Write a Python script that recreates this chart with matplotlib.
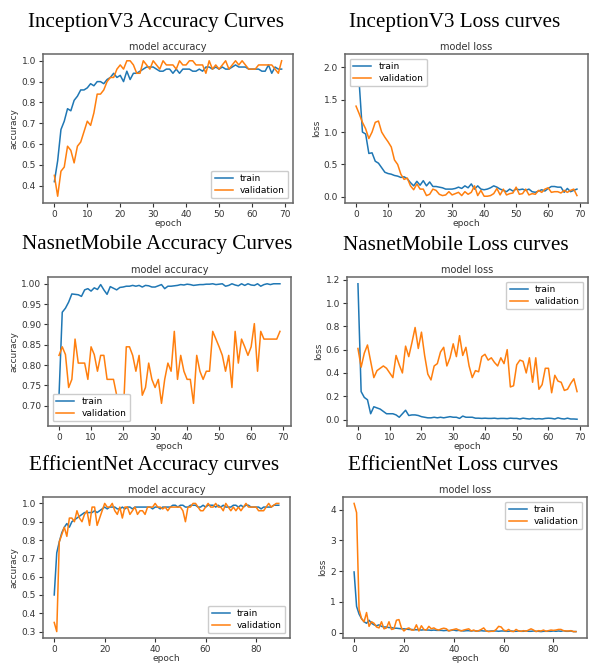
import matplotlib
matplotlib.use("Agg")
import matplotlib.pyplot as plt
from matplotlib.ticker import MultipleLocator
import numpy as np

# ---- data -----------------------------------------------------------
inc_acc_train = [0.42, 0.52, 0.67, 0.71, 0.77, 0.76, 0.81, 0.83, 0.86, 0.86,
                 0.87, 0.89, 0.88, 0.90, 0.90, 0.89, 0.91, 0.92, 0.94, 0.92,
                 0.93, 0.90, 0.95, 0.91, 0.94, 0.94, 0.95, 0.96, 0.97, 0.97,
                 0.97, 0.96, 0.95, 0.95, 0.96, 0.96, 0.94, 0.96, 0.94, 0.96,
                 0.96, 0.96, 0.95, 0.95, 0.96, 0.95, 0.97, 0.97, 0.96, 0.97,
                 0.96, 0.97, 0.96, 0.96, 0.97, 0.98, 0.97, 0.97, 0.97, 0.96,
                 0.96, 0.96, 0.96, 0.95, 0.95, 0.98, 0.94, 0.97, 0.96, 0.96]
inc_acc_val = [0.45, 0.35, 0.47, 0.49, 0.59, 0.57, 0.51, 0.59, 0.61, 0.66,
               0.71, 0.69, 0.75, 0.84, 0.84, 0.86, 0.90, 0.92, 0.92, 0.96,
               0.98, 0.96, 1.00, 1.00, 0.98, 0.94, 0.94, 1.00, 0.98, 0.96,
               1.00, 0.98, 0.96, 1.00, 0.98, 0.98, 0.98, 0.96, 1.00, 0.98,
               0.98, 1.00, 1.00, 0.98, 0.98, 0.98, 0.94, 1.00, 0.96, 0.98,
               0.96, 0.98, 1.00, 0.96, 0.98, 1.00, 0.98, 1.00, 0.98, 0.96,
               0.96, 0.96, 0.98, 0.98, 0.98, 0.98, 0.98, 0.96, 0.94, 1.00]
inc_loss_train = [2.10, 1.75, 1.00, 0.97, 0.67, 0.68, 0.55, 0.52, 0.45, 0.38,
                  0.36, 0.35, 0.33, 0.32, 0.30, 0.31, 0.28, 0.22, 0.17, 0.24,
                  0.18, 0.25, 0.17, 0.23, 0.16, 0.16, 0.15, 0.14, 0.12, 0.12,
                  0.12, 0.13, 0.15, 0.13, 0.17, 0.14, 0.20, 0.12, 0.17, 0.12,
                  0.11, 0.12, 0.14, 0.17, 0.15, 0.12, 0.10, 0.08, 0.12, 0.09,
                  0.12, 0.11, 0.12, 0.10, 0.12, 0.08, 0.07, 0.09, 0.11, 0.09,
                  0.13, 0.16, 0.16, 0.15, 0.15, 0.07, 0.13, 0.08, 0.10, 0.12]
inc_loss_val = [1.40, 1.28, 1.15, 1.05, 0.90, 1.00, 1.15, 1.17, 1.00, 0.92,
                0.85, 0.77, 0.57, 0.50, 0.35, 0.27, 0.29, 0.17, 0.11, 0.20,
                0.12, 0.12, 0.02, 0.04, 0.12, 0.10, 0.04, 0.02, 0.03, 0.08,
                0.03, 0.05, 0.07, 0.02, 0.08, 0.04, 0.07, 0.17, 0.02, 0.10,
                0.01, 0.01, 0.02, 0.05, 0.13, 0.03, 0.12, 0.03, 0.05, 0.06,
                0.15, 0.04, 0.05, 0.12, 0.03, 0.05, 0.04, 0.10, 0.07, 0.12,
                0.14, 0.07, 0.08, 0.08, 0.06, 0.10, 0.07, 0.10, 0.12, 0.02]

nas_acc_train = [0.727, 0.930, 0.940, 0.955, 0.975, 0.974, 0.973, 0.969, 0.985, 0.988,
                 0.982, 0.990, 0.986, 0.998, 0.985, 0.974, 0.993, 0.989, 0.985, 0.991,
                 0.992, 0.994, 0.994, 0.996, 0.994, 0.996, 0.992, 0.996, 0.995, 0.992,
                 0.992, 0.995, 0.998, 0.988, 0.994, 0.994, 0.995, 0.996, 0.998, 0.997,
                 0.999, 0.998, 0.996, 0.997, 0.998, 0.998, 0.999, 0.999, 1.000, 0.998,
                 0.999, 1.000, 0.994, 0.996, 1.000, 0.997, 0.995, 1.000, 0.996, 1.000,
                 0.997, 0.996, 1.000, 0.994, 0.998, 1.000, 0.998, 1.000, 1.000, 1.000]
nas_acc_val = [0.824, 0.845, 0.826, 0.745, 0.765, 0.864, 0.805, 0.805, 0.805, 0.765,
               0.845, 0.826, 0.785, 0.824, 0.824, 0.765, 0.765, 0.765, 0.726, 0.726,
               0.667, 0.845, 0.845, 0.824, 0.785, 0.824, 0.726, 0.745, 0.805, 0.765,
               0.745, 0.765, 0.706, 0.765, 0.805, 0.785, 0.883, 0.765, 0.824, 0.785,
               0.765, 0.765, 0.706, 0.824, 0.785, 0.765, 0.785, 0.785, 0.883, 0.864,
               0.845, 0.824, 0.785, 0.824, 0.745, 0.883, 0.805, 0.864, 0.845, 0.824,
               0.845, 0.902, 0.785, 0.883, 0.864, 0.864, 0.864, 0.864, 0.864, 0.883]
nas_loss_train = [1.165, 0.24, 0.19, 0.17, 0.05, 0.11, 0.10, 0.09, 0.07, 0.05,
                  0.05, 0.05, 0.04, 0.02, 0.05, 0.08, 0.035, 0.04, 0.04, 0.035,
                  0.025, 0.02, 0.015, 0.015, 0.02, 0.015, 0.02, 0.015, 0.02, 0.025,
                  0.02, 0.02, 0.01, 0.03, 0.02, 0.02, 0.02, 0.012, 0.012, 0.01,
                  0.012, 0.01, 0.01, 0.012, 0.008, 0.01, 0.01, 0.008, 0.012, 0.01,
                  0.01, 0.005, 0.012, 0.008, 0.005, 0.01, 0.005, 0.008, 0.005, 0.01,
                  0.012, 0.01, 0.005, 0.015, 0.008, 0.005, 0.012, 0.005, 0.005, 0.003]
nas_loss_val = [0.61, 0.45, 0.57, 0.64, 0.50, 0.36, 0.42, 0.44, 0.46, 0.44,
                0.40, 0.36, 0.55, 0.47, 0.40, 0.63, 0.54, 0.66, 0.79, 0.61,
                0.75, 0.55, 0.39, 0.34, 0.46, 0.48, 0.58, 0.62, 0.46, 0.53,
                0.65, 0.54, 0.72, 0.55, 0.62, 0.46, 0.36, 0.42, 0.41, 0.54,
                0.56, 0.51, 0.53, 0.49, 0.46, 0.53, 0.48, 0.60, 0.28, 0.29,
                0.47, 0.51, 0.50, 0.40, 0.53, 0.32, 0.53, 0.26, 0.30, 0.44,
                0.44, 0.23, 0.38, 0.33, 0.32, 0.25, 0.26, 0.31, 0.35, 0.24]

eff_acc_train = [0.50, 0.73, 0.79, 0.84, 0.87, 0.89, 0.87, 0.90, 0.91, 0.92,
                 0.93, 0.94, 0.95, 0.95, 0.95, 0.95, 0.96, 0.95, 0.96, 0.97,
                 0.98, 0.97, 0.98, 0.98, 0.98, 0.97, 0.97, 0.98, 0.97, 0.98,
                 0.98, 0.97, 0.98, 0.98, 0.98, 0.98, 0.98, 0.98, 0.98, 0.97,
                 0.98, 0.98, 0.97, 0.98, 0.98, 0.98, 0.98, 0.99, 0.99, 0.98,
                 0.99, 0.99, 0.98, 0.98, 0.99, 0.99, 0.99, 0.98, 0.98, 0.99,
                 0.98, 0.99, 0.99, 0.99, 0.98, 0.99, 0.98, 0.99, 0.98, 0.98,
                 0.98, 0.99, 0.99, 0.98, 0.99, 0.98, 0.99, 0.99, 0.98, 0.98,
                 0.98, 0.98, 0.97, 0.98, 0.98, 0.98, 0.98, 0.99, 0.99, 0.99]
eff_acc_val = [0.35, 0.30, 0.79, 0.83, 0.87, 0.82, 0.92, 0.92, 0.90, 0.96,
               0.92, 0.90, 0.94, 0.96, 0.88, 0.98, 0.98, 0.88, 0.92, 0.96,
               1.00, 0.98, 0.98, 1.00, 0.96, 0.94, 0.98, 0.92, 0.98, 0.98,
               0.94, 0.96, 0.98, 0.94, 0.96, 0.96, 0.94, 0.98, 0.98, 0.98,
               1.00, 0.98, 0.98, 0.97, 0.98, 0.96, 0.98, 0.98, 0.98, 0.98,
               0.98, 0.96, 0.90, 0.98, 0.98, 1.00, 1.00, 0.98, 0.96, 0.96,
               0.98, 1.00, 0.98, 0.98, 1.00, 0.98, 0.98, 0.96, 1.00, 0.98,
               0.96, 0.98, 0.96, 0.98, 0.96, 0.98, 1.00, 0.98, 0.98, 0.98,
               0.98, 0.96, 0.96, 0.96, 0.98, 1.00, 0.98, 0.99, 1.00, 1.00]
eff_loss_train = [1.97, 0.85, 0.60, 0.45, 0.35, 0.30, 0.40, 0.30, 0.25, 0.22,
                  0.25, 0.20, 0.18, 0.18, 0.16, 0.16, 0.14, 0.14, 0.13, 0.12,
                  0.12, 0.11, 0.10, 0.10, 0.09, 0.09, 0.09, 0.08, 0.09, 0.08,
                  0.08, 0.07, 0.08, 0.07, 0.07, 0.07, 0.06, 0.07, 0.06, 0.07,
                  0.08, 0.06, 0.07, 0.06, 0.05, 0.06, 0.06, 0.05, 0.06, 0.05,
                  0.05, 0.06, 0.05, 0.05, 0.04, 0.05, 0.05, 0.05, 0.04, 0.05,
                  0.05, 0.04, 0.04, 0.05, 0.04, 0.04, 0.05, 0.04, 0.04, 0.05,
                  0.04, 0.04, 0.05, 0.04, 0.04, 0.03, 0.04, 0.04, 0.04, 0.04,
                  0.05, 0.04, 0.05, 0.04, 0.06, 0.04, 0.04, 0.05, 0.03, 0.03]
eff_loss_val = [4.20, 3.90, 0.75, 0.45, 0.35, 0.65, 0.20, 0.35, 0.30, 0.18,
                0.15, 0.35, 0.12, 0.15, 0.35, 0.10, 0.12, 0.40, 0.42, 0.15,
                0.05, 0.12, 0.15, 0.08, 0.08, 0.25, 0.05, 0.22, 0.10, 0.08,
                0.20, 0.12, 0.15, 0.10, 0.08, 0.12, 0.14, 0.12, 0.05, 0.08,
                0.10, 0.12, 0.08, 0.05, 0.08, 0.10, 0.12, 0.05, 0.08, 0.04,
                0.06, 0.10, 0.15, 0.05, 0.03, 0.04, 0.04, 0.10, 0.20, 0.18,
                0.08, 0.05, 0.10, 0.04, 0.03, 0.10, 0.05, 0.04, 0.06, 0.04,
                0.08, 0.12, 0.08, 0.03, 0.06, 0.05, 0.08, 0.04, 0.06, 0.08,
                0.07, 0.08, 0.10, 0.10, 0.06, 0.05, 0.05, 0.06, 0.03, 0.03]

# (heading, subplot title, ylabel, train, val, legend loc, y tick step,
#  axes box in px: x0, y0, x1, y1)
PANELS = [
    ('InceptionV3 Accuracy Curves', 'model accuracy', 'accuracy',
     inc_acc_train, inc_acc_val, 'lower right', 0.1, (43, 54, 293, 203)),
    ('InceptionV3 Loss curves', 'model loss', 'loss',
     inc_loss_train, inc_loss_val, 'upper left', 0.5, (345, 54, 588, 203)),
    ('NasnetMobile Accuracy Curves', 'model accuracy', 'accuracy',
     nas_acc_train, nas_acc_val, 'lower left', 0.05, (48, 277, 291, 426)),
    ('NasnetMobile Loss curves', 'model loss', 'loss',
     nas_loss_train, nas_loss_val, 'upper right', 0.2, (347, 277, 588, 426)),
    ('EfficientNet Accuracy curves', 'model accuracy', 'accuracy',
     eff_acc_train, eff_acc_val, 'lower right', 0.1, (43, 497, 290, 638)),
    ('EfficientNet Loss curves', 'model loss', 'loss',
     eff_loss_train, eff_loss_val, 'upper right', 1.0, (343, 497, 587, 638)),
]

W, H = 590, 663
fig = plt.figure(figsize=(W / 100, H / 100), dpi=100)
fig.patch.set_facecolor('white')

for heading, title, ylabel, train, val, loc, ystep, (x0, y0, x1, y1) in PANELS:
    ax = fig.add_axes([x0 / W, (H - y1) / H, (x1 - x0) / W, (y1 - y0) / H])
    epochs = np.arange(len(train))
    ax.plot(epochs, train, color='#1f77b4', linewidth=1.1, label='train')
    ax.plot(epochs, val, color='#ff7f0e', linewidth=1.1, label='validation')
    ax.yaxis.set_major_locator(MultipleLocator(ystep))
    ax.set_title(title, fontsize=7, pad=3, color='#333333')
    ax.set_xlabel('epoch', fontsize=6.5, labelpad=0, color='#333333')
    ax.set_ylabel(ylabel, fontsize=6.5, labelpad=2, color='#333333')
    ax.tick_params(labelsize=6.5, length=3, pad=2, colors='#333333')
    for spine in ax.spines.values():
        spine.set_edgecolor('#666666')
        spine.set_linewidth(1.1)
    ax.legend(loc=loc, fontsize=6.5, handlelength=2.0, borderpad=0.4,
              labelspacing=0.3, framealpha=1.0)
    cx = (x0 + x1) / 2 - 12
    fig.text(cx / W, 1 - (y0 - 32) / H, heading, ha='center', va='center',
             fontsize=15.2, family='Liberation Serif')

fig.savefig('out.png', dpi=100, facecolor='white')
